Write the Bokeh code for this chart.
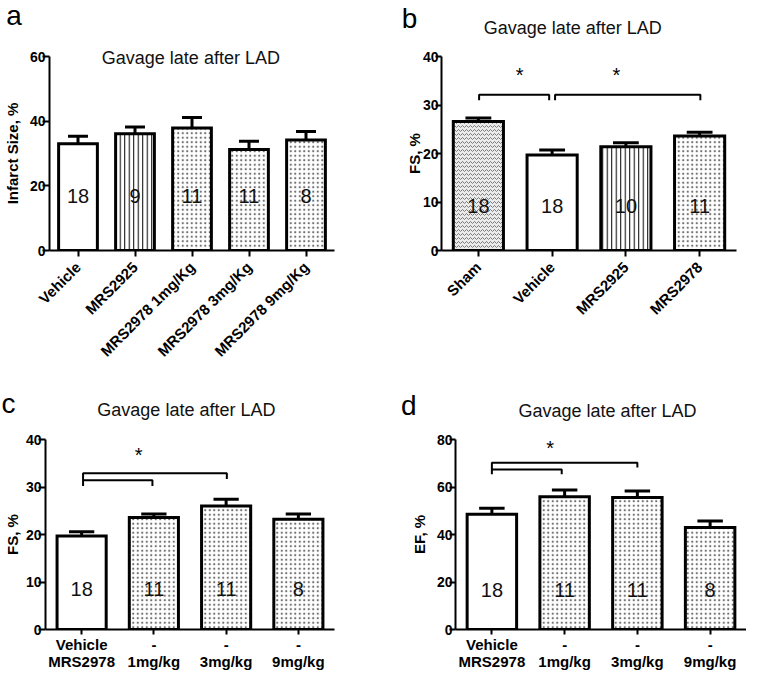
import math
from bokeh.plotting import figure
from bokeh.models import Range1d, FixedTicker, Label, ColumnDataSource
from bokeh.layouts import row, column
from bokeh.embed import file_html
from bokeh.resources import INLINE
from bokeh.core.properties import value

FONT = "Liberation Sans"
TITLE = "Gavage late after LAD"

# ---------------- data ----------------
a_labels = ["Vehicle", "MRS2925", "MRS2978 1mg/Kg", "MRS2978 3mg/Kg", "MRS2978 9mg/Kg"]
a_means = [33.0, 36.1, 37.9, 31.2, 34.2]
a_sem = [2.3, 2.1, 3.2, 2.6, 2.6]
a_n = ["18", "9", "11", "11", "8"]
a_fill = ["blank", "lines", "dots", "dots", "dots"]

b_labels = ["Sham", "Vehicle", "MRS2925", "MRS2978"]
b_means = [26.6, 19.7, 21.4, 23.6]
b_sem = [0.7, 1.0, 0.8, 0.8]
b_n = ["18", "18", "10", "11"]
b_fill = ["sham", "blank", "lines", "dots"]

c_labels = ["Vehicle\nMRS2978", "-\n1mg/kg", "-\n3mg/kg", "-\n9mg/kg"]
c_means = [19.7, 23.6, 26.0, 23.2]
c_sem = [0.9, 0.7, 1.4, 1.1]
c_n = ["18", "11", "11", "8"]
c_fill = ["blank", "dots", "dots", "dots"]

d_labels = ["Vehicle\nMRS2978", "-\n1mg/kg", "-\n3mg/kg", "-\n9mg/kg"]
d_means = [48.5, 55.9, 55.6, 43.0]
d_sem = [2.6, 2.8, 2.7, 2.7]
d_n = ["18", "11", "11", "8"]
d_fill = ["blank", "dots", "dots", "dots"]

# significance brackets: (from group, to group, top y, left leg end y, right leg end y, left shift, right shift)
b_brackets = [(0, 1, 32.1, 31.0, 31.0, 0.01, -0.04), (1, 3, 32.1, 31.0, 31.0, 0.04, 0.01)]
b_stars = [(1.06, 36.2), (2.37, 36.2)]
c_brackets = [(0, 2, 32.9, 30.2, 31.7, 0.02, 0.01), (0, 1, 31.4, 31.4, 30.2, 0.02, -0.02)]
c_stars = [(1.29, 36.8)]
d_brackets = [(0, 2, 70.2, 65.4, 68.2, 0.0, 0.0), (0, 1, 67.4, 67.4, 65.4, 0.0, -0.04)]
d_stars = [(1.30, 76.3)]

FILL = {
    "blank": dict(fill="white", pat=" ", hc="black", hs=4.0, hw=1.0),
    "lines": dict(fill="white", pat="|", hc="black", hs=4.5, hw=1.0),
    "dots": dict(fill="white", pat=".", hc="#707070", hs=4.5, hw=1.0),
    "sham": dict(fill="#ebebeb", pat="v", hc="#7a7a7a", hs=4.0, hw=1.0),
}


def panel(labels, means, sem, ns, fills, ymax, yticks, n_y, width, height,
          borders, rotated, title_xy, letter, letter_xy, label_text,
          label_standoff, brackets, stars, xlab_size, xlab_standoff, ytick_out):
    k = len(labels)
    xs = [i + 0.5 for i in range(k)]
    p = figure(width=width, height=height, output_backend="svg", toolbar_location=None,
               x_range=Range1d(0, k), y_range=Range1d(0, ymax),
               min_border_left=borders[0], min_border_right=borders[1],
               min_border_top=borders[2], min_border_bottom=borders[3])
    p.outline_line_color = None
    p.xgrid.visible = False
    p.ygrid.visible = False
    p.background_fill_color = "white"
    p.border_fill_color = "white"

    src = ColumnDataSource(dict(
        x=xs, top=means,
        fill=[FILL[f]["fill"] for f in fills],
        pat=[FILL[f]["pat"] for f in fills],
        hc=[FILL[f]["hc"] for f in fills],
        hs=[FILL[f]["hs"] for f in fills],
        hw=[FILL[f]["hw"] for f in fills],
    ))
    p.vbar(x="x", top="top", bottom=0, width=0.68, source=src,
           fill_color="fill", hatch_pattern="pat", hatch_color="hc",
           hatch_scale="hs", hatch_weight="hw",
           line_color="black", line_width=3, line_join="miter")
    tops = [m + e for m, e in zip(means, sem)]
    p.segment(x0=xs, y0=means, x1=xs, y1=tops, line_color="black", line_width=3)
    p.segment(x0=[x - 0.175 for x in xs], y0=tops, x1=[x + 0.175 for x in xs], y1=tops,
              line_color="black", line_width=3)

    p.text(x=xs, y=[n_y] * k, text=ns, text_font=value(FONT), text_font_size="20px",
           text_align="center", text_baseline="middle", text_color="#111111")

    # significance brackets
    bx, by = [], []
    for (i, j, ytop, yl, yr, sl, sr) in brackets:
        x0 = i + 0.5 + sl
        x1 = j + 0.5 + sr
        bx.append([x0, x0, x1, x1])
        by.append([yl, ytop, ytop, yr])
    if bx:
        p.multi_line(xs=bx, ys=by, line_color="black", line_width=2)
    for (sx, sy) in stars:
        p.add_layout(Label(x=sx, y=sy, text="*", text_font=FONT, text_font_size="20px",
                           text_align="center", text_baseline="middle", text_color="black"))

    # axes
    ax = p.xaxis[0]
    ax.ticker = FixedTicker(ticks=xs)
    ax.major_label_overrides = {x: l for x, l in zip(xs, labels)}
    ax.minor_tick_line_color = None
    ax.major_tick_in = 0
    ax.major_tick_out = 6 if rotated else 5
    ax.major_tick_line_width = 2
    ax.axis_line_width = 2
    ax.major_label_text_font = FONT
    ax.major_label_text_font_style = "bold"
    ax.major_label_text_font_size = xlab_size
    ax.major_label_text_color = "black"
    ax.major_label_standoff = xlab_standoff
    ax.major_label_text_line_height = 1.0
    if rotated:
        ax.major_label_orientation = math.pi / 4

    ay = p.yaxis[0]
    ay.ticker = FixedTicker(ticks=yticks)
    ay.minor_tick_line_color = None
    ay.major_tick_in = 0
    ay.major_tick_out = ytick_out
    ay.major_tick_line_width = 2
    ay.axis_line_width = 2
    ay.major_label_text_font = FONT
    ay.major_label_text_font_style = "bold"
    ay.major_label_text_font_size = "14px"
    ay.major_label_text_color = "black"
    ay.major_label_standoff = -3
    ay.axis_label = label_text
    ay.axis_label_text_font = FONT
    ay.axis_label_text_font_style = "bold"
    ay.axis_label_text_font_size = "15px"
    ay.axis_label_text_color = "black"
    ay.axis_label_standoff = label_standoff

    # title and panel letter live in the top border (side panel -> not clipped to the frame)
    p.add_layout(Label(x=title_xy[0], y=title_xy[1], text=TITLE, text_font=FONT,
                       text_font_size="18px", text_align="center", text_baseline="middle",
                       text_color="#111111"), "above")
    p.add_layout(Label(x=letter_xy[0], y=letter_xy[1], text=letter, text_font=FONT,
                       text_font_size="28px", text_align="left", text_baseline="alphabetic",
                       text_color="black"), "above")
    return p


pa = panel(a_labels, a_means, a_sem, a_n, a_fill, 60, [0, 20, 40, 60], 17.0,
           370, 368, (44, 36, 56, 116), True, (2.48, 59.5), "a", (-0.76, 72.6),
           "Infarct Size, %", 6, [], [], "15px", 8, 7)
pb = panel(b_labels, b_means, b_sem, b_n, b_fill, 40, [0, 10, 20, 30, 40], 9.2,
           376, 368, (71, 10, 55, 117), True, (1.78, 45.9), "b", (-0.54, 47.9),
           "FS, %", -3, b_brackets, b_stars, "15px", 8, 6)
pc = panel(c_labels, c_means, c_sem, c_n, c_fill, 40, [0, 10, 20, 30, 40], 8.6,
           370, 304, (44, 36, 71, 43), False, (1.95, 46.25), "c", (-0.61, 47.5),
           "FS, %", 2, c_brackets, c_stars, "15px", 1, 7)
pd_ = panel(d_labels, d_means, d_sem, d_n, d_fill, 80, [0, 20, 40, 60, 80], 16.5,
            376, 304, (85, 0, 71, 43), False, (2.09, 91.8), "d", (-0.75, 94.2),
            "EF, %", 6, d_brackets, d_stars, "15px", 1, 6)

layout = column(row(pa, pb), row(pc, pd_))
open("out.html", "w").write(file_html(layout, INLINE))
